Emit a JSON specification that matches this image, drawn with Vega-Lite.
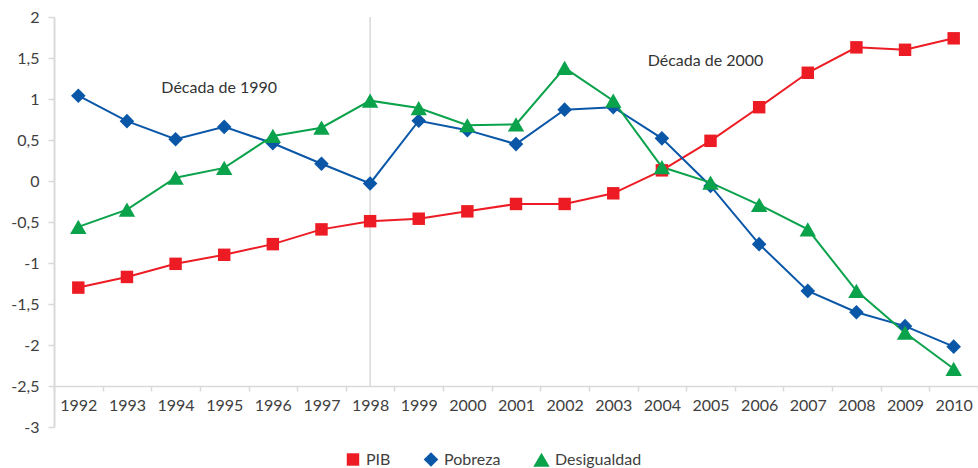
{
  "$schema": "https://vega.github.io/schema/vega-lite/v6.json",
  "width": 924,
  "height": 410,
  "autosize": {"type": "none"},
  "padding": {"left": 54, "top": 17, "right": 0, "bottom": 41},
  "background": "white",
  "config": {
    "font": "Lato",
    "view": {"stroke": null},
    "axis": {
      "labelFont": "Lato",
      "labelFontSize": 16,
      "labelColor": "#404040",
      "domainColor": "#d9d9d9",
      "domainWidth": 2,
      "tickColor": "#d9d9d9",
      "tickWidth": 1.5,
      "grid": false,
      "title": null
    },
    "legend": {
      "orient": "none",
      "legendX": 291,
      "legendY": 434,
      "direction": "horizontal",
      "title": null,
      "symbolSize": 1225,
      "symbolStrokeWidth": 0,
      "symbolOpacity": 1,
      "labelFont": "Lato",
      "labelFontSize": 16,
      "labelColor": "#404040",
      "labelOffset": 5,
      "columnPadding": 32
    }
  },
  "datasets": {
    "main": [
      {"year": 1992, "serie": "PIB", "value": -1.30},
      {"year": 1993, "serie": "PIB", "value": -1.17},
      {"year": 1994, "serie": "PIB", "value": -1.01},
      {"year": 1995, "serie": "PIB", "value": -0.90},
      {"year": 1996, "serie": "PIB", "value": -0.77},
      {"year": 1997, "serie": "PIB", "value": -0.59},
      {"year": 1998, "serie": "PIB", "value": -0.49},
      {"year": 1999, "serie": "PIB", "value": -0.46},
      {"year": 2000, "serie": "PIB", "value": -0.37},
      {"year": 2001, "serie": "PIB", "value": -0.28},
      {"year": 2002, "serie": "PIB", "value": -0.28},
      {"year": 2003, "serie": "PIB", "value": -0.15},
      {"year": 2004, "serie": "PIB", "value": 0.13},
      {"year": 2005, "serie": "PIB", "value": 0.49},
      {"year": 2006, "serie": "PIB", "value": 0.90},
      {"year": 2007, "serie": "PIB", "value": 1.32},
      {"year": 2008, "serie": "PIB", "value": 1.63},
      {"year": 2009, "serie": "PIB", "value": 1.60},
      {"year": 2010, "serie": "PIB", "value": 1.74},
      {"year": 1992, "serie": "Pobreza", "value": 1.04},
      {"year": 1993, "serie": "Pobreza", "value": 0.73},
      {"year": 1994, "serie": "Pobreza", "value": 0.51},
      {"year": 1995, "serie": "Pobreza", "value": 0.66},
      {"year": 1996, "serie": "Pobreza", "value": 0.46},
      {"year": 1997, "serie": "Pobreza", "value": 0.21},
      {"year": 1998, "serie": "Pobreza", "value": -0.03},
      {"year": 1999, "serie": "Pobreza", "value": 0.735},
      {"year": 2000, "serie": "Pobreza", "value": 0.62},
      {"year": 2001, "serie": "Pobreza", "value": 0.45},
      {"year": 2002, "serie": "Pobreza", "value": 0.87},
      {"year": 2003, "serie": "Pobreza", "value": 0.90},
      {"year": 2004, "serie": "Pobreza", "value": 0.52},
      {"year": 2005, "serie": "Pobreza", "value": -0.06},
      {"year": 2006, "serie": "Pobreza", "value": -0.77},
      {"year": 2007, "serie": "Pobreza", "value": -1.34},
      {"year": 2008, "serie": "Pobreza", "value": -1.60},
      {"year": 2009, "serie": "Pobreza", "value": -1.77},
      {"year": 2010, "serie": "Pobreza", "value": -2.02},
      {"year": 1992, "serie": "Desigualdad", "value": -0.56},
      {"year": 1993, "serie": "Desigualdad", "value": -0.35},
      {"year": 1994, "serie": "Desigualdad", "value": 0.04},
      {"year": 1995, "serie": "Desigualdad", "value": 0.16},
      {"year": 1996, "serie": "Desigualdad", "value": 0.55},
      {"year": 1997, "serie": "Desigualdad", "value": 0.65},
      {"year": 1998, "serie": "Desigualdad", "value": 0.98},
      {"year": 1999, "serie": "Desigualdad", "value": 0.89},
      {"year": 2000, "serie": "Desigualdad", "value": 0.68},
      {"year": 2001, "serie": "Desigualdad", "value": 0.69},
      {"year": 2002, "serie": "Desigualdad", "value": 1.38},
      {"year": 2003, "serie": "Desigualdad", "value": 0.98},
      {"year": 2004, "serie": "Desigualdad", "value": 0.17},
      {"year": 2005, "serie": "Desigualdad", "value": -0.02},
      {"year": 2006, "serie": "Desigualdad", "value": -0.29},
      {"year": 2007, "serie": "Desigualdad", "value": -0.59},
      {"year": 2008, "serie": "Desigualdad", "value": -1.34},
      {"year": 2009, "serie": "Desigualdad", "value": -1.85},
      {"year": 2010, "serie": "Desigualdad", "value": -2.29}
    ],
    "vline": [{"year": 1998, "top": 2, "bottom": -2.5}],
    "annots": [
      {"year": 1995, "value": 1.13, "label": "Década de 1990"},
      {"year": 2005, "value": 1.46, "label": "Década de 2000"}
    ]
  },
  "layer": [
    {
      "data": {"name": "vline"},
      "mark": {"type": "rule", "color": "#d9d9d9", "strokeWidth": 1.5},
      "encoding": {
        "x": {
          "field": "year", "type": "ordinal",
          "scale": {"type": "band", "paddingInner": 0, "paddingOuter": 0},
          "axis": {
            "labelAngle": 0,
            "tickBand": "extent",
            "tickSize": 5,
            "labelPadding": 6,
            "offset": -41,
            "domainWidth": 1.5
          }
        },
        "y": {
          "field": "top", "type": "quantitative",
          "scale": {"domain": [-3, 2], "nice": false, "zero": false},
          "axis": {
            "values": [-3, -2.5, -2, -1.5, -1, -0.5, 0, 0.5, 1, 1.5, 2],
            "labelExpr": "(datum.value < 0 ? '-' : '') + replace(format(abs(datum.value), '~g'), '.', ',')",
            "tickSize": 6,
            "labelPadding": 9
          }
        },
        "y2": {"field": "bottom"}
      }
    },
    {
      "data": {"name": "main"},
      "mark": {"type": "line", "strokeWidth": 2},
      "encoding": {
        "x": {"field": "year", "type": "ordinal"},
        "y": {"field": "value", "type": "quantitative"},
        "color": {
          "field": "serie", "type": "nominal",
          "scale": {"domain": ["PIB", "Pobreza", "Desigualdad"], "range": ["#ED1C24", "#0A57A8", "#0AA24B"]},
          "legend": {
            "encode": {
              "symbols": {
                "update": {
                  "shape": {"signal": "datum.value === 'PIB' ? 'M-1,-0.057H1V0.057H-1ZM-0.36,-0.36H0.36V0.36H-0.36Z' : datum.value === 'Pobreza' ? 'M-1,-0.057H1V0.057H-1ZM0,-0.44L0.44,0L0,0.44L-0.44,0Z' : 'M-1,-0.057H1V0.057H-1ZM0,-0.26L0.36,0.32L-0.36,0.32Z'"},
                  "fill": {"signal": "datum.value === 'PIB' ? '#ED1C24' : datum.value === 'Pobreza' ? '#0A57A8' : '#0AA24B'"},
                  "opacity": {"value": 1}
                }
              }
            }
          }
        }
      }
    },
    {
      "data": {"name": "main"},
      "mark": {"type": "point", "filled": true, "opacity": 1},
      "encoding": {
        "x": {"field": "year", "type": "ordinal"},
        "y": {"field": "value", "type": "quantitative"},
        "color": {
          "field": "serie", "type": "nominal",
          "legend": {
            "encode": {
              "symbols": {
                "update": {
                  "shape": {"signal": "datum.value === 'PIB' ? 'M-1,-0.057H1V0.057H-1ZM-0.36,-0.36H0.36V0.36H-0.36Z' : datum.value === 'Pobreza' ? 'M-1,-0.057H1V0.057H-1ZM0,-0.44L0.44,0L0,0.44L-0.44,0Z' : 'M-1,-0.057H1V0.057H-1ZM0,-0.26L0.36,0.32L-0.36,0.32Z'"},
                  "fill": {"signal": "datum.value === 'PIB' ? '#ED1C24' : datum.value === 'Pobreza' ? '#0A57A8' : '#0AA24B'"},
                  "opacity": {"value": 1}
                }
              }
            }
          }
        },
        "shape": {
          "field": "serie", "type": "nominal",
          "scale": {"domain": ["PIB", "Pobreza", "Desigualdad"], "range": ["square", "diamond", "triangle-up"]},
          "legend": null
        },
        "size": {
          "field": "serie", "type": "nominal",
          "scale": {"domain": ["PIB", "Pobreza", "Desigualdad"], "range": [155, 270, 190]},
          "legend": null
        }
      }
    },
    {
      "data": {"name": "annots"},
      "mark": {"type": "text", "font": "Lato", "fontSize": 16, "color": "#333333", "dx": -5},
      "encoding": {
        "x": {"field": "year", "type": "ordinal"},
        "y": {"field": "value", "type": "quantitative"},
        "text": {"field": "label"}
      }
    }
  ]
}
